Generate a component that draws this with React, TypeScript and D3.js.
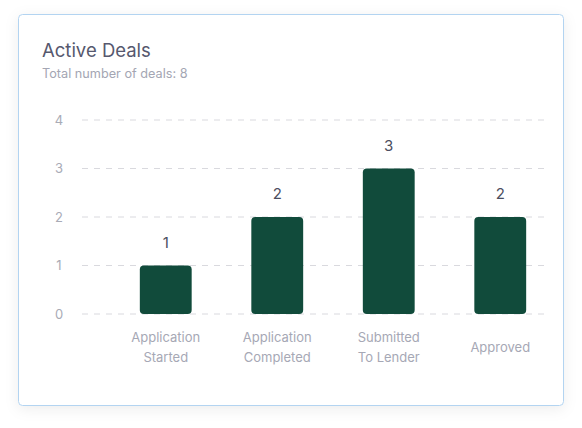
import React from "react";
import * as d3 from "d3";

const categories: string[][] = [
  ["Application", "Started"],
  ["Application", "Completed"],
  ["Submitted", "To Lender"],
  ["Approved"],
];
const dealCounts: number[] = [1, 2, 3, 2];
const yTicks: number[] = [0, 1, 2, 3, 4];
const title = "Active Deals";
const subtitle = "Total number of deals: 8";

const W = 582;
const H = 428;
const FONT = "Inter, 'Noto Sans', sans-serif";

export default function App() {
  const keys = categories.map((c) => c.join(" "));
  const x = d3
    .scaleBand<string>()
    .domain(keys)
    .range([110, 556])
    .paddingInner(0.535)
    .paddingOuter(0.2675);
  const y = d3.scaleLinear().domain([0, 4]).range([314, 120]);
  const gridX0 = 82;
  const gridX1 = 548;

  return (
    <svg
      width={W}
      height={H}
      style={{ position: "absolute", left: 0, top: 0, display: "block" }}
    >
      <defs>
        <filter id="sh" x="-10%" y="-10%" width="120%" height="120%">
          <feDropShadow dx="0" dy="3" stdDeviation="7" floodColor="#000" floodOpacity="0.07" />
        </filter>
      </defs>
      <rect x={0} y={0} width={W} height={H} fill="#ffffff" />
      <rect
        x={18.5}
        y={14.5}
        width={545}
        height={391}
        rx={4}
        fill="#ffffff"
        stroke="#b3d4f1"
        strokeWidth={1}
        filter="url(#sh)"
      />
      <text x={42} y={57} fontFamily={FONT} fontSize={18.5} fill="#56586e" fontWeight={400}>
        {title}
      </text>
      <text x={42} y={78} fontFamily={FONT} fontSize={12.7} fill="#a4a6b3">
        {subtitle}
      </text>
      {yTicks.map((t) => (
        <g key={t}>
          <line
            x1={gridX0}
            x2={gridX1}
            y1={y(t)}
            y2={y(t)}
            stroke="#d9d9de"
            strokeWidth={1}
            strokeDasharray="6 6"
          />
          <text
            x={59}
            y={y(t)}
            dy="0.35em"
            textAnchor="middle"
            fontFamily={FONT}
            fontSize={13}
            fill="#a9abb6"
          >
            {t}
          </text>
        </g>
      ))}
      {keys.map((k, i) => {
        const v = dealCounts[i];
        const bx = x(k) as number;
        const bw = x.bandwidth();
        const top = y(v);
        return (
          <g key={k}>
            <rect
              x={bx}
              y={top}
              width={bw}
              height={y(0) - top}
              rx={4}
              fill="#114b3b"
            />
            <text
              x={bx + bw / 2}
              y={top - 23}
              dy="0.35em"
              textAnchor="middle"
              fontFamily={FONT}
              fontSize={15}
              fill="#4c4e60"
            >
              {v}
            </text>
            {categories[i].map((line, j) => {
              const n = categories[i].length;
              const cy = 347.5 + (j - (n - 1) / 2) * 20.5;
              return (
                <text
                  key={j}
                  x={bx + bw / 2}
                  y={cy}
                  dy="0.35em"
                  textAnchor="middle"
                  fontFamily={FONT}
                  fontSize={13}
                  fill="#a6a8b5"
                >
                  {line}
                </text>
              );
            })}
          </g>
        );
      })}
    </svg>
  );
}
